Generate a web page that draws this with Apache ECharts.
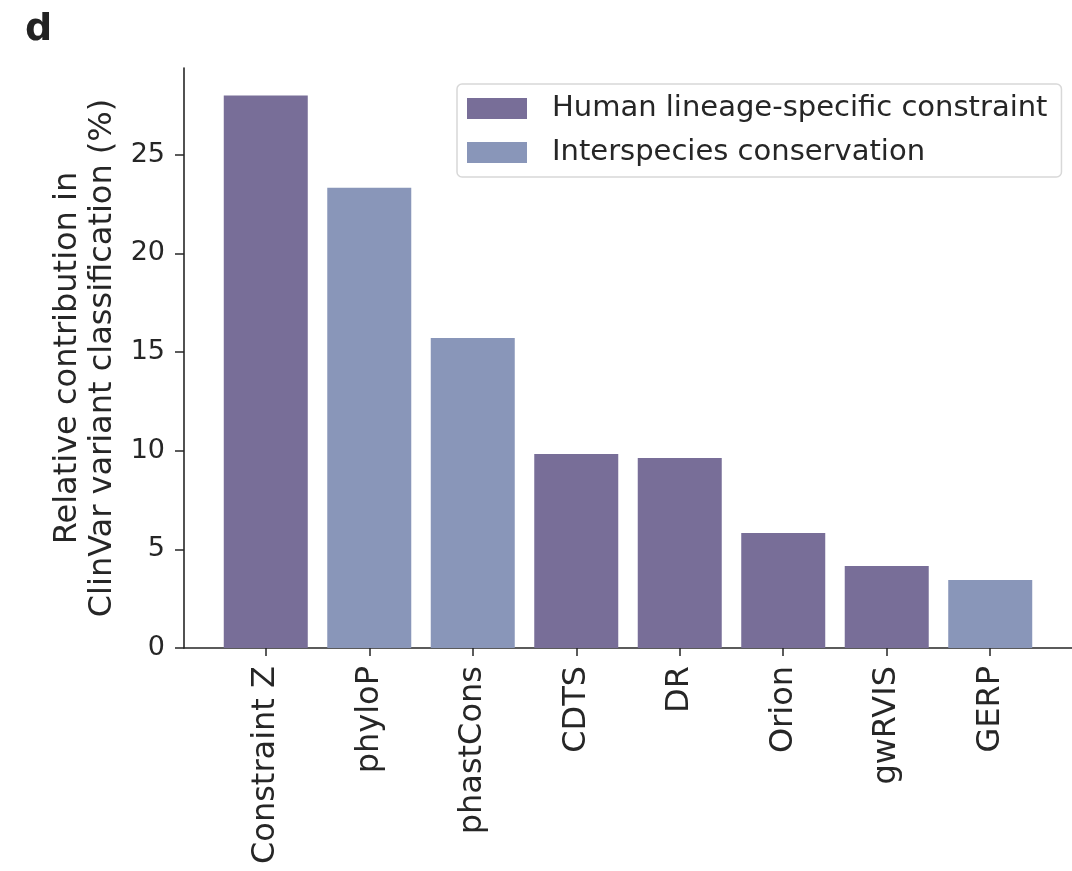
<!DOCTYPE html>
<html>
<head>
<meta charset="utf-8">
<script src="https://cdn.jsdelivr.net/npm/echarts@6/dist/echarts.min.js"></script>
<style>html,body{margin:0;padding:0;background:#fff}#c{width:1072px;height:871px}</style>
</head>
<body>
<div id="c"></div>
<script>
const categories = ['Constraint Z','phyloP','phastCons','CDTS','DR','Orion','gwRVIS','GERP'];
const values = [28.0, 23.33, 15.72, 9.84, 9.63, 5.83, 4.16, 3.45];
const groups = ['human','inter','inter','human','human','human','human','inter'];
const seriesNames = {human:'Human lineage-specific constraint', inter:'Interspecies conservation'};
const yTicks = [0,5,10,15,20,25];

const colors = {human:'#786E98', inter:'#8996B9'};
const font = 'DejaVu Sans';
const txt = '#262626';

function seriesData(g){
  const out = [];
  categories.forEach((c,i)=>{ if(groups[i]===g) out.push([i, values[i]]); });
  return out;
}

const chart = echarts.init(document.getElementById('c'), null, {renderer:'canvas'});
chart.setOption({
  animation:false,
  backgroundColor:'#fff',
  title:{text:'d', left:20, top:6, textStyle:{fontFamily:font, fontSize:38, fontWeight:'bold', color:'#222'}},
  legend:{
    left:457, top:84, orient:'vertical',
    data:[seriesNames.human, seriesNames.inter],
    itemWidth:60, itemHeight:21, itemGap:15,
    padding:[10,14,10,10],
    borderColor:'#d8d8d8', borderWidth:1.5, borderRadius:5,
    icon:'rect',
    textStyle:{fontFamily:font, fontSize:29, color:txt, padding:[0,0,0,20]}
  },
  grid:{left:184, top:68, width:893, height:580, containLabel:false},
  xAxis:{
    type:'value', min:-0.79, max:7.79,
    splitLine:{show:false},
    axisLine:{show:true, onZero:false, lineStyle:{color:txt, width:1.6}},
    axisTick:{show:true, customValues:categories.map((c,i)=>i), length:8, lineStyle:{color:txt, width:1.5}},
    axisLabel:{show:true, customValues:categories.map((c,i)=>i), rotate:90, margin:18,
      fontFamily:font, fontSize:32, color:txt,
      formatter:v=>categories[Math.round(v)]}
  },
  yAxis:{
    type:'value', min:0, max:29.4,
    splitLine:{show:false},
    axisLine:{show:true, onZero:false, lineStyle:{color:txt, width:1.6}},
    axisTick:{show:true, customValues:yTicks, length:9, lineStyle:{color:txt, width:1.5}},
    axisLabel:{customValues:yTicks, margin:19, fontFamily:font, fontSize:27, color:txt},
    name:'Relative contribution in\nClinVar variant classification (%)',
    nameLocation:'middle', nameRotate:90, nameGap:64,
    nameTextStyle:{fontFamily:font, fontSize:32, color:txt, lineHeight:35, align:'center'}
  },
  series:[
    {name:seriesNames.human, type:'bar', data:seriesData('human'), barWidth:84,
      itemStyle:{color:colors.human}},
    {name:seriesNames.inter, type:'bar', data:seriesData('inter'), barWidth:84, barGap:'-100%',
      itemStyle:{color:colors.inter}}
  ]
});
</script>
</body>
</html>
